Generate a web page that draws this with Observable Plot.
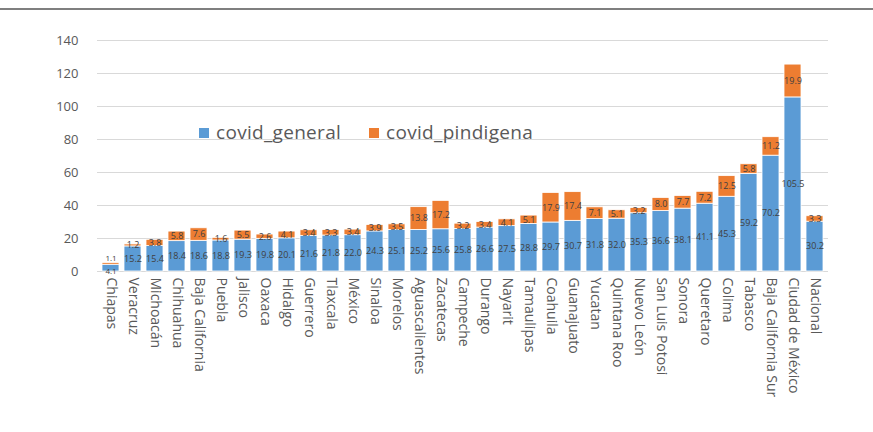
<!DOCTYPE html>
<html>
<head>
<meta charset="utf-8">
<script src="https://cdn.jsdelivr.net/npm/d3@7"></script>
<script src="https://cdn.jsdelivr.net/npm/@observablehq/plot@0.6"></script>
<style>
  body { margin: 0; background: #fff; font-family: "Open Sans", sans-serif; }
  #wrap { position: relative; width: 873px; height: 432px; overflow: hidden; }
  #topline { position: absolute; left: 0; top: 8px; width: 873px; height: 2px; background: #7f7f7f; }
  #legend { position: absolute; left: 199px; top: 119px; font-size: 19px; color: #595959; font-family: "Open Sans", sans-serif; white-space: nowrap; letter-spacing: 0.3px; }
  #legend span.sw { display: inline-block; width: 10px; height: 10px; margin-right: 7px; vertical-align: 1px; }
</style>
</head>
<body>
<div id="wrap">
  <div id="chart"></div>
  <div id="topline"></div>
  <div id="legend"><span class="sw" style="background:#5B9BD5"></span>covid_general<span style="display:inline-block;width:28px"></span><span class="sw" style="background:#ED7D31"></span>covid_pindigena</div>
</div>
<script>
const states = ["Chiapas","Veracruz","Michoacán","Chihuahua","Baja California","Puebla","Jalisco","Oaxaca","Hidalgo","Guerrero","Tlaxcala","México","Sinaloa","Morelos","Aguascalientes","Zacatecas","Campeche","Durango","Nayarit","Tamaulipas","Coahuila","Guanajuato","Yucatan","Quintana Roo","Nuevo León","San Luis Potosi","Sonora","Queretaro","Colima","Tabasco","Baja California Sur","Ciudad de México","Nacional"];
const covidGeneral = [4.1,15.2,15.4,18.4,18.6,18.8,19.3,19.8,20.1,21.6,21.8,22.0,24.3,25.1,25.2,25.6,25.8,26.6,27.5,28.8,29.7,30.7,31.8,32.0,35.3,36.6,38.1,41.1,45.3,59.2,70.2,105.5,30.2];
const covidPindigena = [1.1,1.2,3.8,5.8,7.6,1.6,5.5,2.6,4.1,3.4,3.3,3.4,3.9,3.5,13.8,17.2,3.2,3.4,4.1,5.1,17.9,17.4,7.1,5.1,3.2,8.0,7.7,7.2,12.5,5.8,11.2,19.9,3.3];
const yTicks = [0,20,40,60,80,100,120,140];

const rows = [];
states.forEach((s, i) => {
  const g = covidGeneral[i], p = covidPindigena[i];
  rows.push({state: s, series: "covid_general", y1: 0, y2: g, mid: g / 2, v: g, shift: g < 6 ? 3 : 0});
  rows.push({state: s, series: "covid_pindigena", y1: g, y2: g + p, mid: g + p / 2, v: p, shift: g < 6 ? -4 : 0});
});

const chart = Plot.plot({
  width: 873,
  height: 432,
  marginLeft: 97,
  marginRight: 45,
  marginTop: 40,
  marginBottom: 161,
  style: {fontFamily: "'Open Sans', sans-serif", fontSize: "13px", color: "#595959"},
  x: {domain: states, paddingInner: 0.24, paddingOuter: 0, label: null},
  y: {domain: [0, 140], label: null},
  color: {domain: ["covid_general", "covid_pindigena"], range: ["#5B9BD5", "#ED7D31"]},
  marks: [
    Plot.ruleY(yTicks, {stroke: "#d9d9d9", strokeWidth: 1}),
    Plot.barY(rows, {x: "state", y1: "y1", y2: "y2", fill: "series", stroke: "#fff", strokeWidth: 0.8}),
    Plot.text(rows.filter(d => d.shift === 0), {x: "state", y: "mid", text: d => d.v.toFixed(1), fill: "#404040", fontSize: 9, fontFamily: "'Open Sans', sans-serif"}),
    Plot.text(rows.filter(d => d.shift > 0), {x: "state", y: "mid", dy: 3, text: d => d.v.toFixed(1), fill: "#404040", fontSize: 8, fontFamily: "'Open Sans', sans-serif"}),
    Plot.text(rows.filter(d => d.shift < 0), {x: "state", y: "mid", dy: -5, text: d => d.v.toFixed(1), fill: "#404040", fontSize: 8, fontFamily: "'Open Sans', sans-serif"}),
    Plot.axisY({ticks: yTicks, tickSize: 0, tickPadding: 19, fontSize: 13, fill: "#595959", label: null}),
    Plot.axisX({tickSize: 0, tickPadding: 6, tickRotate: 90, fontSize: 14, fill: "#595959", label: null, style: {letterSpacing: "0.6px"}})
  ]
});
document.getElementById("chart").appendChild(chart);
</script>
</body>
</html>
